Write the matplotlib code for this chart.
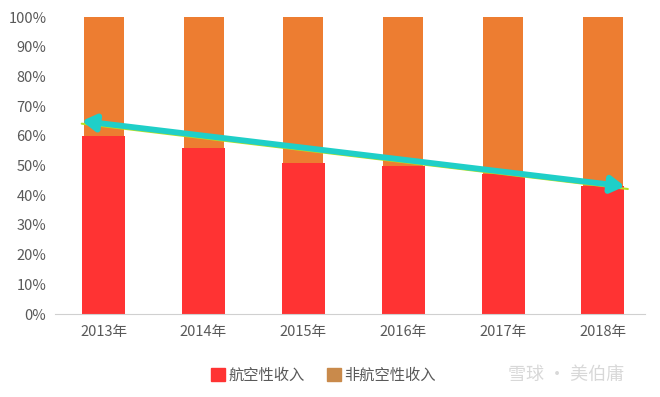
import matplotlib.pyplot as plt
from matplotlib.patches import Patch, FancyArrowPatch

plt.rcParams['font.family'] = ['Noto Sans CJK SC', 'DejaVu Sans']

years = ["2013年", "2014年", "2015年", "2016年", "2017年", "2018年"]
aero = [60, 56, 51, 50, 47, 43]
non_aero = [100 - v for v in aero]
trend_start = 65
trend_end = 43

red = "#FF3333"
orange = "#ED7D31"

fig = plt.figure(figsize=(6.6, 3.97), dpi=100)
ax = fig.add_axes([0.083, 0.209, 0.894, 0.748])

x = list(range(len(years)))
ax.bar(x, aero, width=0.43, color=red, zorder=2)
ax.bar(x, non_aero, width=0.40, bottom=aero, color=orange, zorder=1)

# trend arrow: thin yellow-green line under a cyan double-headed arrow
x0, x1 = x[0] - 0.22, x[-1] + 0.22
ax.plot([x0, x1 + 0.03], [trend_start - 0.9, trend_end - 0.9],
        color="#B8E020", lw=1.5, zorder=3, solid_capstyle="round")
arr = FancyArrowPatch((x0, trend_start), (x1, trend_end),
                      arrowstyle="<|-|>,head_length=5,head_width=3",
                      color="#1FCFC8", lw=4.2, zorder=4,
                      mutation_scale=1.6, shrinkA=0, shrinkB=0)
ax.add_patch(arr)

ax.set_xlim(-0.49, 5.42)
ax.set_ylim(0, 100)
ax.set_yticks(range(0, 101, 10))
ax.set_yticklabels([f"{v}%" for v in range(0, 101, 10)])
ax.set_xticks(x)
ax.set_xticklabels(years)
ax.tick_params(axis="both", length=0, labelsize=10.5, colors="#595959")
ax.tick_params(axis="x", pad=8)
ax.tick_params(axis="y", pad=6)
for s in ["top", "right", "left"]:
    ax.spines[s].set_visible(False)
ax.spines["bottom"].set_color("#D0D0D0")

handles = [Patch(color=red, label="航空性收入"),
           Patch(color="#C98A4B", label="非航空性收入")]
fig.legend(handles=handles, loc="center", bbox_to_anchor=(0.49, 0.055),
           ncol=2, frameon=False, fontsize=11, handlelength=0.9,
           handleheight=0.9, handletextpad=0.2, columnspacing=1.5,
           labelcolor="#595959")

fig.text(0.77, 0.055, "雪球 · 美伯庸", fontsize=13, color="#D8D8D8",
         ha="left", va="center")

fig.savefig("out.png", dpi=100)
